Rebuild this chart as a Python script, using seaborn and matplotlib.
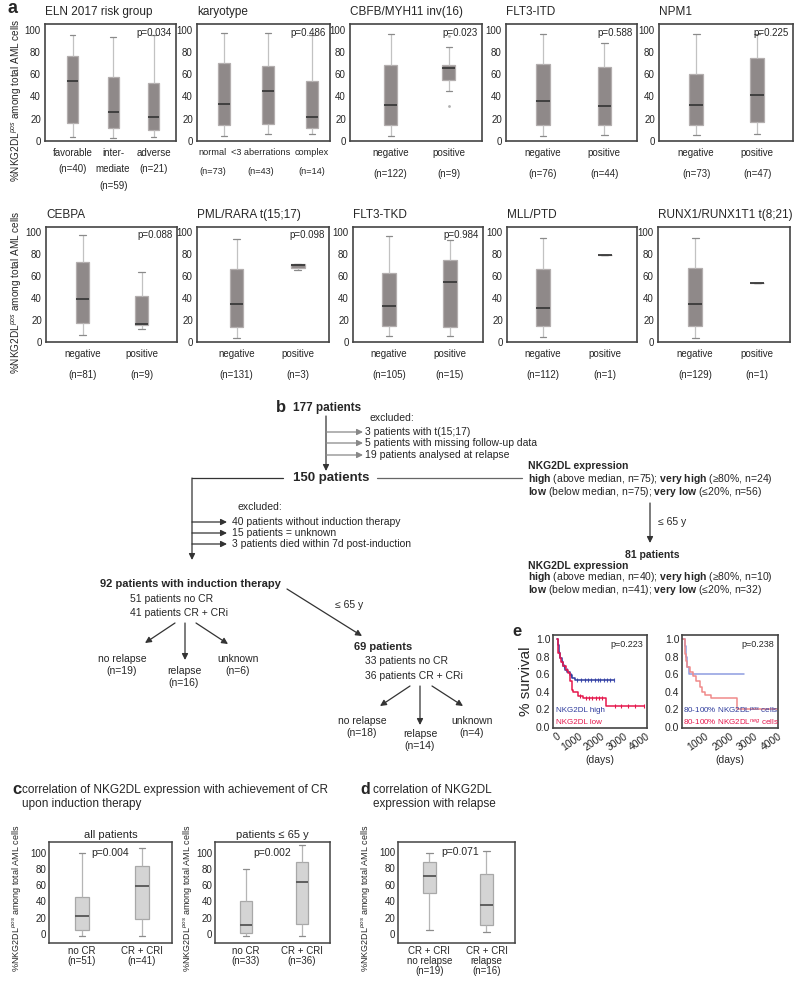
"""
NKG2DL expression in AML: box plots, patient flow chart and survival curves
"""

import matplotlib
matplotlib.use("Agg")
import matplotlib.pyplot as plt
import matplotlib.transforms as mtransforms
import seaborn as sns
import pandas as pd

# ---- panel a: five-number summaries (whisker low, Q1, median, Q3, whisker high)
ELN_LABELS = ["favorable\n(n=40)", "inter-\nmediate\n(n=59)", "adverse\n(n=21)"]
ELN_BOXES = [[3.6, 16.3, 54, 75.9, 95.5], [3, 12, 26, 57, 93.4], [4, 10.2, 21.4, 52.4, 95.5]]
KARYO_LABELS = ["normal\n(n=73)", "<3 aberrations\n(n=43)", "complex\n(n=14)"]
KARYO_BOXES = [[4.5, 14.5, 33, 70, 97.3], [6.6, 15.7, 45, 67.5, 97], [6, 11.7, 21.4, 54, 95.5]]
CBFB_LABELS = ["negative\n(n=122)", "positive\n(n=9)"]
CBFB_BOXES = [[4.5, 14.2, 32.2, 67.8, 95.8], [44.6, 54.8, 65.4, 68.4, 84]]
CBFB_OUTLIERS = [31.6, 94.6]
ITD_LABELS = ["negative\n(n=76)", "positive\n(n=44)"]
ITD_BOXES = [[4.5, 14.2, 36, 69.3, 96.4], [5.1, 14.5, 31.3, 66.3, 88]]
NPM1_LABELS = ["negative\n(n=73)", "positive\n(n=47)"]
NPM1_BOXES = [[5.1, 14.8, 32.2, 60.5, 96], [6, 16.9, 41.3, 74.4, 96.4]]
CEBPA_LABELS = ["negative\n(n=81)", "positive\n(n=9)"]
CEBPA_BOXES = [[6.6, 17.5, 39.5, 72.9, 97.3], [12, 15.5, 16.5, 42.2, 64]]
PML_LABELS = ["negative\n(n=131)", "positive\n(n=3)"]
PML_BOXES = [[3.3, 13.6, 34.3, 66.9, 94], [65.4, 68, 69.9, 71, 71]]
TKD_LABELS = ["negative\n(n=105)", "positive\n(n=15)"]
TKD_BOXES = [[5.4, 14.5, 33, 62.7, 96.4], [5.4, 13.5, 55, 75, 93]]
MLL_LABELS = ["negative\n(n=112)", "positive\n(n=1)"]
MLL_BOXES = [[5, 14.4, 31.4, 66.5, 95.2], [79]]
RUNX_LABELS = ["negative\n(n=129)", "positive\n(n=1)"]
RUNX_BOXES = [[3.9, 14.4, 35, 68, 94.6], [54]]

A_TITLES = ["ELN 2017 risk group", "karyotype", "CBFB/MYH11 inv(16)", "FLT3-ITD", "NPM1",
            "CEBPA", "PML/RARA t(15;17)", "FLT3-TKD", "MLL/PTD", "RUNX1/RUNX1T1 t(8;21)"]
A_PVALUES = ["p=0.034", "p=0.486", "p=0.023", "p=0.588", "p=0.225",
             "p=0.088", "p=0.098", "p=0.984", "", ""]

# ---- panels c, d
C_ALL_LABELS = ["no CR\n(n=51)", "CR + CRI\n(n=41)"]
C_ALL_BOXES = [[-3, 4.9, 21.7, 45, 100], [-3, 18, 59, 84.4, 106.5]]
C_65_LABELS = ["no CR\n(n=33)", "CR + CRI\n(n=36)"]
C_65_BOXES = [[-3, 0.8, 11, 40, 79.5], [-3, 12, 63.5, 89, 110]]
D_LABELS = ["CR + CRI\nno relapse\n(n=19)", "CR + CRI\nrelapse\n(n=16)"]
D_BOXES = [[5.6, 50.4, 71, 87, 98], [2.4, 11.7, 36, 73, 100.8]]

# ---- panel e: Kaplan-Meier steps (days, survival) and censor marks
HIGH_T = [0, 60, 100, 150, 220, 300, 370, 480, 600, 700, 820, 1000, 2550]
HIGH_S = [1.0, 0.93, 0.84, 0.78, 0.74, 0.69, 0.65, 0.62, 0.59, 0.56, 0.54, 0.53, 0.53]
HIGH_CT = [120, 250, 350, 450, 650, 900, 1100, 1250, 1400, 1550, 1700, 1850, 1950, 2100, 2250, 2400, 2550]
HIGH_CS = [0.84, 0.74, 0.69, 0.65, 0.59, 0.54, 0.53, 0.53, 0.53, 0.53, 0.53, 0.53, 0.53, 0.53, 0.53, 0.53, 0.53]
LOW_T = [0, 40, 80, 130, 200, 300, 420, 520, 600, 670, 750, 970, 1200, 2200, 3900]
LOW_S = [1.0, 0.91, 0.84, 0.78, 0.74, 0.69, 0.65, 0.61, 0.52, 0.42, 0.40, 0.355, 0.33, 0.24, 0.24]
LOW_CT = [1050, 1300, 1450, 1600, 1750, 1900, 2050, 2600, 2900, 3200, 3500, 3900]
LOW_CS = [0.355, 0.33, 0.33, 0.33, 0.33, 0.33, 0.33, 0.24, 0.24, 0.24, 0.24, 0.24]
POS_T = [0, 200, 230, 280, 330, 2600]
POS_S = [1.0, 0.92, 0.8, 0.68, 0.6, 0.6]
NEG_T = [0, 180, 220, 280, 380, 500, 650, 780, 880, 1000, 1250, 2300, 4000]
NEG_S = [1.0, 0.83, 0.75, 0.68, 0.62, 0.58, 0.52, 0.45, 0.40, 0.36, 0.33, 0.20, 0.20]

sns.set_theme(style="white")
plt.rcParams['font.family'] = ['Liberation Sans', 'DejaVu Sans']
plt.rcParams['mathtext.fontset'] = 'custom'
plt.rcParams['mathtext.rm'] = 'Liberation Sans'
plt.rcParams['mathtext.bf'] = 'Liberation Sans:bold'
plt.rcParams['mathtext.it'] = 'Liberation Sans:italic'

W, H = 800, 982
fig = plt.figure(figsize=(W / 100, H / 100), dpi=100)


def px_axes(x0, y0, x1, y1):
    return fig.add_axes([x0 / W, 1 - y1 / H, (x1 - x0) / W, (y1 - y0) / H])


def boxes(ax, labels, data, width, fill, edge, whisk, cap, med, outliers=None):
    df = pd.DataFrame({"group": [g for g, b in zip(labels, data) for _ in b],
                       "value": [v for b in data for v in b]})
    sns.boxplot(data=df, x="group", y="value", order=labels, ax=ax, whis=(0, 100),
                width=width, color=fill, saturation=1, linecolor=edge, linewidth=0.9,
                showfliers=False, whiskerprops=dict(color=whisk),
                capprops=dict(color=cap), medianprops=dict(color=med, linewidth=1.3))
    if outliers is not None:
        odf = pd.DataFrame({"group": [labels[-1]] * len(outliers), "value": outliers})
        sns.stripplot(data=odf, x="group", y="value", order=labels, ax=ax, jitter=False,
                      color="#b0b0b0", size=2)
    ax.set_xlabel("")
    ax.set_ylabel("")


def frame(ax, lw=1.2):
    for s in ax.spines.values():
        s.set_color("#444444")
        s.set_linewidth(lw)


# overlay for flow chart and free text
ov = fig.add_axes([0, 0, 1, 1])
ov.set_xlim(0, W)
ov.set_ylim(H, 0)
ov.axis("off")

# ---------------- panel a ----------------
a_boxes = [(45, 24, 176, 141), (197, 24, 330, 141), (350, 24, 482, 141), (506, 24, 637, 141),
           (659, 24, 793, 141), (46, 227, 177, 342), (197, 227, 329, 342), (353, 227, 483, 342),
           (507, 227, 637, 342), (658, 227, 790, 342)]
a_xlims = [(-0.68, 2.55), (-0.6, 2.4), (-0.7, 1.57), (-0.6, 1.53), (-0.61, 1.59),
           (-0.62, 1.6), (-0.65, 1.51), (-0.59, 1.54), (-0.58, 1.52), (-0.6, 1.53)]
a_data = [(ELN_LABELS, ELN_BOXES), (KARYO_LABELS, KARYO_BOXES), (CBFB_LABELS, CBFB_BOXES),
          (ITD_LABELS, ITD_BOXES), (NPM1_LABELS, NPM1_BOXES), (CEBPA_LABELS, CEBPA_BOXES),
          (PML_LABELS, PML_BOXES), (TKD_LABELS, TKD_BOXES), (MLL_LABELS, MLL_BOXES),
          (RUNX_LABELS, RUNX_BOXES)]
for i, (box, xl, (labels, data)) in enumerate(zip(a_boxes, a_xlims, a_data)):
    ax = px_axes(*box)
    n = len(labels)
    boxes(ax, labels, data, 0.27 if n == 3 else 0.22, "#8f8989", "#b3aeae", "#c2c2c2",
          "#8a8a8a", "#3a3a3a", CBFB_OUTLIERS if i == 2 else None)
    ax.set_ylim(0, 105)
    ax.set_xlim(*xl)
    ax.set_yticks([0, 20, 40, 60, 80, 100])
    ax.tick_params(length=0, labelsize=7, pad=3)
    ax.tick_params(axis="x", pad=5)
    for t in ax.get_xticklabels():
        t.set_linespacing(1.8 if i == 0 else 2.35)
    if i == 1:
        # karyotype labels sit a little left of their boxes
        for t, dx in zip(ax.get_xticklabels(), [-11, -7, -1]):
            t.set_fontsize(6.6)
            t.set_linespacing(2.5)
            t.set_transform(t.get_transform() + mtransforms.ScaledTranslation(dx / 100, 0, fig.dpi_scale_trans))
    frame(ax)
    ax.text(0.97, 0.97, A_PVALUES[i], transform=ax.transAxes, ha="right", va="top", fontsize=7)
    ax.text(0.0, 1.05, A_TITLES[i], transform=ax.transAxes, ha="left", va="bottom", fontsize=8.5)

ylab = "%NKG2DL$^{pos}$ among total AML cells"
ov.text(8, 8, "a", fontsize=13, fontweight="bold", va="center")
ov.text(17, 100, ylab, rotation=90, fontsize=7.2, ha="center", va="center")
ov.text(17, 292, ylab, rotation=90, fontsize=7.2, ha="center", va="center")

# ---------------- panel b (flow chart) ----------------
FS = 7.5
LC = "#333333"


def arrow(x1, y1, x2, y2, color=LC, lw=0.9):
    ov.annotate("", xy=(x2, y2), xytext=(x1, y1),
                arrowprops=dict(arrowstyle="-|>", color=color, lw=lw, mutation_scale=9,
                                shrinkA=0, shrinkB=0))


def txt(x, y, s, bold=False, size=FS, ha="left"):
    ov.text(x, y, s, fontsize=size, fontweight="bold" if bold else "normal", ha=ha, va="center")


txt(276, 408, "b", bold=True, size=12)
txt(293, 408, "177 patients", bold=True, size=8.5)
arrow(326, 416, 326, 471)
txt(369, 418, "excluded:")
for y, s in zip([432, 443, 455], ["3 patients with t(15;17)", "5 patients with missing follow-up data",
                                  "19 patients analysed at relapse"]):
    arrow(326, y, 363, y, color="#888888")
    txt(365, y, s)
txt(331, 478, "150 patients", bold=True, size=9.5, ha="center")
ov.plot([283, 192], [478, 478], color=LC, lw=0.9)
ov.plot([377, 522], [478, 478], color="#666666", lw=0.9)
arrow(192, 478, 192, 560)
txt(238, 507, "excluded:")
for y, s in zip([522, 533, 544], ["40 patients without induction therapy", "15 patients = unknown",
                                  "3 patients died within 7d post-induction"]):
    arrow(192, y, 227, y)
    txt(232, y, s)

txt(528, 466, "NKG2DL expression", bold=True)
txt(528, 479, r"$\mathbf{high}$ (above median, n=75); $\mathbf{very\ high}$ (≥80%, n=24)")
txt(528, 492, r"$\mathbf{low}$ (below median, n=75); $\mathbf{very\ low}$ (≤20%, n=56)")
arrow(650, 503, 650, 543)
txt(658, 522, "≤ 65 y")
txt(652, 555, "81 patients", bold=True, ha="center")
txt(528, 566, "NKG2DL expression", bold=True)
txt(528, 577, r"$\mathbf{high}$ (above median, n=40); $\mathbf{very\ high}$ (≥80%, n=10)")
txt(528, 590, r"$\mathbf{low}$ (below median, n=41); $\mathbf{very\ low}$ (≤20%, n=32)")

txt(100, 584, "92 patients with induction therapy", bold=True, size=8)
txt(130, 599, "51 patients no CR")
txt(130, 613, "41 patients CR + CRi")
arrow(175, 623, 145, 643)
arrow(185, 623, 185, 660)
arrow(196, 623, 228, 644)
txt(122, 665, "no relapse\n(n=19)", ha="center")
txt(184, 677, "relapse\n(n=16)", ha="center")
txt(238, 665, "unknown\n(n=6)", ha="center")
arrow(287, 589, 362, 636)
txt(335, 605, "≤ 65 y")
txt(354, 647, "69 patients", bold=True, size=8)
txt(365, 661, "33 patients no CR")
txt(365, 676, "36 patients CR + CRi")
arrow(410, 686, 380, 706)
arrow(420, 686, 420, 725)
arrow(432, 686, 463, 706)
txt(362, 727, "no relapse\n(n=18)", ha="center")
txt(420, 740, "relapse\n(n=14)", ha="center")
txt(472, 727, "unknown\n(n=4)", ha="center")

# ---------------- panel e ----------------
ov.text(512, 631, "e", fontsize=12, fontweight="bold", va="center")
axe1 = px_axes(553, 635, 647, 728)
sns.lineplot(x=HIGH_T, y=HIGH_S, ax=axe1, drawstyle="steps-post", color="#2e3b9c", lw=1.1, estimator=None)
sns.lineplot(x=LOW_T, y=LOW_S, ax=axe1, drawstyle="steps-post", color="#e5174c", lw=1.1, estimator=None)
sns.scatterplot(x=HIGH_CT, y=HIGH_CS, ax=axe1, marker="|", s=10, color="#4a58b8", linewidth=0.8)
sns.scatterplot(x=LOW_CT, y=LOW_CS, ax=axe1, marker="|", s=10, color="#e5174c", linewidth=0.8)
axe1.set_xlim(-165, 4050)
axe1.set_xticks([0, 1000, 2000, 3000, 4000])
axe1.set_ylabel("% survival", fontsize=11, labelpad=2)
axe1.text(0.96, 0.95, "p=0.223", transform=axe1.transAxes, ha="right", va="top", fontsize=6.5)
axe1.text(0.03, 0.19, "NKG2DL high", transform=axe1.transAxes, color="#2e3b9c", fontsize=5.8, va="center")
axe1.text(0.03, 0.06, "NKG2DL low", transform=axe1.transAxes, color="#e5174c", fontsize=5.8, va="center")

axe2 = px_axes(682, 635, 778, 728)
sns.lineplot(x=POS_T, y=POS_S, ax=axe2, drawstyle="steps-post", color="#8e9ce0", lw=1.1, estimator=None)
sns.lineplot(x=NEG_T, y=NEG_S, ax=axe2, drawstyle="steps-post", color="#f08a8a", lw=1.1, estimator=None)
axe2.set_xlim(57, 4000)
axe2.set_xticks([1000, 2000, 3000, 4000])
axe2.text(0.96, 0.95, "p=0.238", transform=axe2.transAxes, ha="right", va="top", fontsize=6.5)
axe2.text(0.01, 0.19, "80-100% NKG2DL$^{pos}$ cells", transform=axe2.transAxes, color="#2e3b9c",
          fontsize=5.8, va="center")
axe2.text(0.01, 0.06, "80-100% NKG2DL$^{neg}$ cells", transform=axe2.transAxes, color="#e5174c",
          fontsize=5.8, va="center")
for ax in (axe1, axe2):
    ax.set_ylim(-0.01, 1.045)
    ax.set_yticks([0.0, 0.2, 0.4, 0.6, 0.8, 1.0])
    ax.set_yticklabels(["0.0", "0.2", "0.4", "0.6", "0.8", "1.0"])
    ax.set_xlabel("(days)", fontsize=7.5, labelpad=2)
    ax.tick_params(length=0, labelsize=7.5, pad=2)
    for t in ax.get_xticklabels():
        t.set_rotation(35)
        t.set_ha("right")
        t.set_rotation_mode("anchor")
    frame(ax)

# ---------------- panels c, d ----------------
ov.text(12, 790, "c", fontsize=12, fontweight="bold", va="center")
ov.text(22, 790, "correlation of NKG2DL expression with achievement of CR", fontsize=8.5, va="center")
ov.text(22, 804, "upon induction therapy", fontsize=8.5, va="center")
ov.text(360, 790, "d", fontsize=11.5, fontweight="bold", va="center")
ov.text(373, 790, "correlation of NKG2DL", fontsize=8.5, va="center")
ov.text(373, 804, "expression with relapse", fontsize=8.5, va="center")

cd = [((49, 842, 172, 943), C_ALL_LABELS, C_ALL_BOXES, "all patients", "p=0.004", 0.5, (-11.5, 113.5), 17),
      ((215, 842, 330, 943), C_65_LABELS, C_65_BOXES, "patients ≤ 65 y", "p=0.002", 0.5, (-11.5, 113.5), 188),
      ((398, 842, 515, 943), D_LABELS, D_BOXES, "", "p=0.071", 0.53, (-10.5, 111.7), 366)]
for box, labels, data, title, p, px, ylim, lx in cd:
    ax = px_axes(*box)
    boxes(ax, labels, data, 0.22, "#d4d4d4", "#a8a8a8", "#b5b5b5", "#8c8c8c", "#555555")
    ax.set_ylim(*ylim)
    ax.set_xlim(-0.55, 1.5)
    ax.set_yticks([0, 20, 40, 60, 80, 100])
    ax.tick_params(length=0, labelsize=7, pad=2)
    for t in ax.get_xticklabels():
        t.set_linespacing(1.0)
        t.set_fontsize(7)
    ax.text(px, (100 - ylim[0]) / (ylim[1] - ylim[0]), p, transform=ax.transAxes,
            fontsize=7.5, ha="center", va="center")
    if title:
        ax.set_title(title, fontsize=8, pad=3)
    frame(ax, 1.1)
    ov.text(lx, 898, ylab, rotation=90, fontsize=6.5, ha="center", va="center")

fig.savefig("out.png", dpi=100)
